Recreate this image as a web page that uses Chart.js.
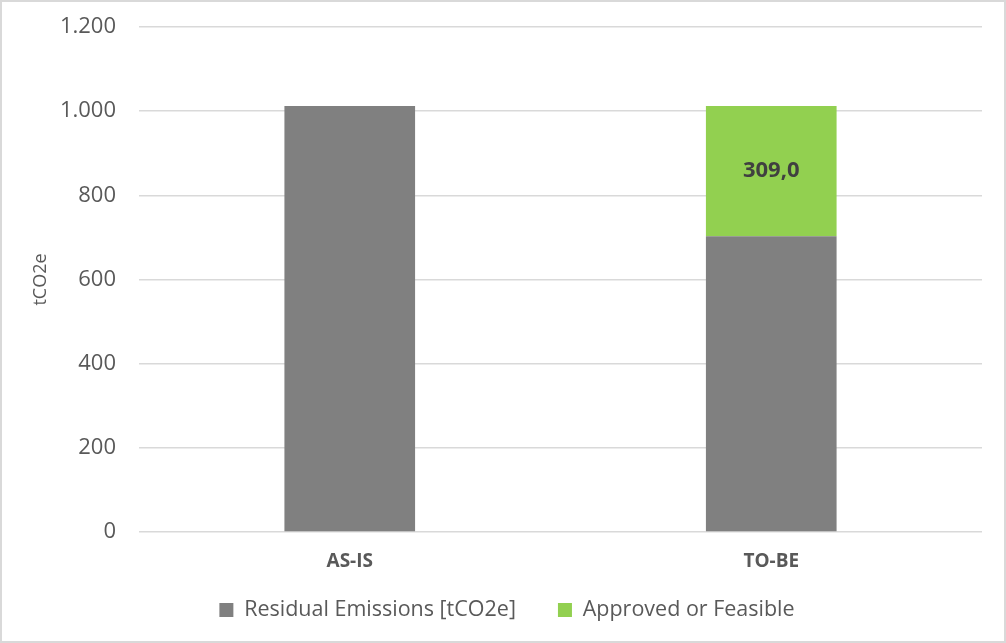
<!DOCTYPE html>
<html>
<head>
<meta charset="utf-8">
<script src="https://cdn.jsdelivr.net/npm/chart.js@4.4.0/dist/chart.umd.min.js"></script>
<style>
  html, body { margin: 0; padding: 0; background: #fff; }
  #wrap { position: relative; width: 1006px; height: 643px; }
</style>
</head>
<body>
<div id="wrap"><canvas id="chart"></canvas></div>
<script>
// dati
var categories = ['AS-IS', 'TO-BE'];
var residualEmissions = [1012, 703];
var approvedFeasible = [null, 309];
var yTicks = [0, 200, 400, 600, 800, 1000, 1200];

var FONT = "'Open Sans', 'DejaVu Sans', sans-serif";
var TEXT = '#595959';

function thousands(v) {                                      // 1200 -> "1.200"
  return String(v).replace(/\B(?=(\d{3})+(?!\d))/g, '.');
}

function decimalComma(v) {                                   // 309 -> "309,0"
  return v.toFixed(1).replace('.', ',');
}

// etichetta dentro il segmento verde
var valueLabels = {
  id: 'valueLabels',
  afterDatasetsDraw: function (chart) {
    var ctx = chart.ctx;
    chart.data.datasets.forEach(function (ds, i) {
      if (!ds.showValues) return;
      var meta = chart.getDatasetMeta(i);
      meta.data.forEach(function (bar, j) {
        var v = ds.data[j];
        if (v == null || v === 0) return;
        ctx.save();
        ctx.font = 'bold 22px ' + FONT;
        ctx.fillStyle = '#404040';
        ctx.textAlign = 'center';
        ctx.textBaseline = 'middle';
        ctx.fillText(decimalComma(v), bar.x, (bar.y + bar.base) / 2);
        ctx.restore();
      });
    });
  }
};

// bordo esterno grigio chiaro
var outerBorder = {
  id: 'outerBorder',
  afterDraw: function (chart) {
    var ctx = chart.ctx;
    ctx.save();
    ctx.strokeStyle = '#d9d9d9';
    ctx.lineWidth = 2;
    ctx.strokeRect(1, 1, chart.width - 2, chart.height - 2);
    ctx.restore();
  }
};

new Chart(document.getElementById('chart'), {
  type: 'bar',
  data: {
    labels: categories,
    datasets: [{
      label: 'Residual Emissions [tCO2e]',
      data: residualEmissions,
      backgroundColor: '#808080',
      categoryPercentage: 1,
      barPercentage: 0.31
    }, {
      label: 'Approved or Feasible',
      data: approvedFeasible,
      backgroundColor: '#92d050',
      categoryPercentage: 1,
      barPercentage: 0.31,
      showValues: true
    }]
  },
  options: {
    responsive: true,
    maintainAspectRatio: false,
    devicePixelRatio: 1,
    animation: false,
    layout: { padding: { top: 27, right: 24, bottom: 12.25, left: 32 } },
    plugins: {
      tooltip: { enabled: false },
      legend: {
        position: 'bottom',
        labels: {
          boxWidth: 14,
          boxHeight: 14,
          padding: 42,
          color: TEXT,
          font: { family: FONT, size: 21.5 }
        }
      }
    },
    scales: {
      x: {
        stacked: true,
        grid: { display: false, drawTicks: false },
        border: { display: false },
        afterFit: function (scale) { scale.height = 25.25; },
        ticks: {
          mirror: true,                                       // niente clip sotto l'asse
          padding: -41,
          color: TEXT,
          font: { family: FONT, size: 19, weight: 'bold' }
        }
      },
      y: {
        stacked: true,
        min: 0,
        max: 1200,
        afterBuildTicks: function (scale) {
          scale.ticks = yTicks.map(function (v) { return { value: v }; });
        },
        afterFit: function (scale) {
          scale.width = 107;
          scale.paddingTop = 0;
          scale.paddingBottom = 0;
        },
        grid: { color: '#d9d9d9', lineWidth: 1.5, drawTicks: false },
        border: { display: false },
        ticks: {
          padding: 23,
          color: TEXT,
          font: { family: FONT, size: 22 },
          callback: function (v) { return thousands(v); }
        },
        title: {
          display: true,
          text: 'tCO2e',
          color: TEXT,
          padding: { top: -2, bottom: 0 },
          font: { family: FONT, size: 18 }
        }
      }
    }
  },
  plugins: [valueLabels, outerBorder]
});
</script>
</body>
</html>
